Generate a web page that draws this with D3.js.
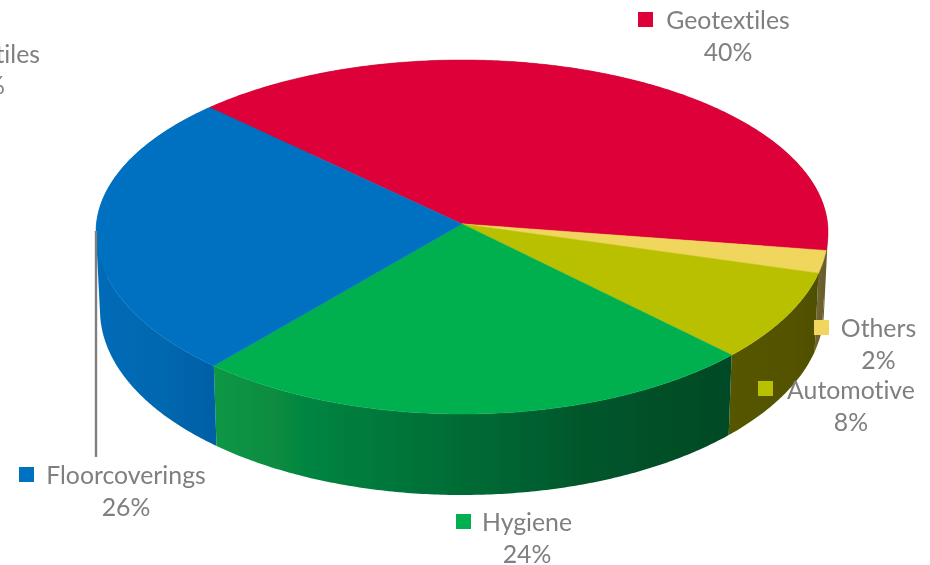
<!DOCTYPE html>
<html><head><meta charset="utf-8">
<script src="https://cdn.jsdelivr.net/npm/d3@7/dist/d3.min.js"></script>
<style>html,body{margin:0;padding:0;background:#fff;overflow:hidden}svg{display:block}
text{font-family:Lato,"Open Sans",sans-serif;fill:#7f7f7f;font-size:24.8px;font-variant-ligatures:none}</style>
</head><body>
<svg id="c" width="930" height="565"></svg>
<script>
// ---- data ----
const categories = ["Geotextiles","Others","Automotive","Hygiene","Floorcoverings","Textiles"];
const values = [40,2,8,24,26,0];

// ---- styling / layout (separate from data) ----
const topColors = ["#de0037","#f0d65c","#b8c000","#00b050","#0070c0","#7f7f7f"];
const sideStops = [
  ["#6a5f2a","#6a5f2a"],
  ["#6f6430","#665a28"],
  ["#565600","#505000"],
  ["#0a9845","#047e3e","#006a35","#00542a","#004a25"],
  ["#006cb8","#0068b0","#0060a6"],
  ["#777","#777"]
];
const labelPos = [
  {cx:728,y:29,key:638,ky:12},
  {cx:878.5,y:337,key:814,ky:320},
  {cx:851,y:399,key:758,ky:381},
  {cx:527,y:531,key:456,ky:514},
  {cx:126,y:484,key:19,ky:467}
];
const topE={cx:462,cy:232,rx:366,ryU:172,ryL:182}, botE={cx:462,cy:310,rx:362,ryU:172,ryL:185};
const k=-0.047, s=Math.sqrt(1-k*k);           // perspective shift of the pie centre
const start=-45.5*Math.PI/180;

const svg=d3.select("#c");
const defs=svg.append("defs");
defs.append("filter").attr("id","soft").append("feGaussianBlur").attr("stdDeviation",0.45);
const root=svg.append("g").attr("filter","url(#soft)");

// project a pie angle (0 = up, clockwise) + radius fraction onto an ellipse
function proj(E,a,r=1){
  const u=r*Math.sin(a), v=-r*Math.cos(a), d=1+k*v, vp=(v+k)/d;
  return [E.cx+E.rx*u*s/d, E.cy+(vp<0?E.ryU:E.ryL)*vp];
}
const pie=d3.pie().sort(null).value(d=>d.v).startAngle(start).endAngle(start+2*Math.PI);
const arcs=pie(values.map((v,i)=>({v,i})));
const line=d3.line();
function angles(a0,a1){const n=Math.max(2,Math.ceil((a1-a0)/0.01));return d3.range(n+1).map(j=>a0+(a1-a0)*j/n);}

// walls: one path of same-orientation quads per slice, so the silhouette stays filled
const sides=root.append("g");
arcs.filter(a=>a.data.v>0).forEach(a=>{
  const as=angles(a.startAngle,a.endAngle);
  const t=as.map(x=>proj(topE,x)), b=as.map(x=>proj(botE,x));
  const x0=d3.min(t,p=>p[0]),x1=d3.max(t,p=>p[0]);
  const id="g"+a.data.i;
  const g=defs.append("linearGradient").attr("id",id).attr("gradientUnits","userSpaceOnUse")
    .attr("x1",x0).attr("x2",x1).attr("y1",0).attr("y2",0);
  sideStops[a.data.i].forEach((c,j,l)=>g.append("stop").attr("offset",j/(l.length-1)).attr("stop-color",c));
  let dstr="";
  for(let j=0;j<as.length-1;j++){
    let q=[t[j],t[j+1],b[j+1],b[j]];
    if(d3.polygonArea(q)<0) q=q.reverse();
    dstr+=line(q)+"Z";
  }
  sides.append("path").attr("d",dstr).attr("fill",`url(#${id})`).attr("fill-rule","nonzero");
});
// top face
const tops=root.append("g");
arcs.filter(a=>a.data.v>0).forEach(a=>{
  const pts=[proj(topE,0,0)].concat(angles(a.startAngle,a.endAngle).map(x=>proj(topE,x)));
  tops.append("path").attr("d",line(pts)+"Z").attr("fill",topColors[a.data.i])
    .attr("stroke",topColors[a.data.i]).attr("stroke-width",0.5);
});
// leader line
root.append("line").attr("x1",96).attr("x2",96).attr("y1",231).attr("y2",457)
  .attr("stroke","#7f7f7f").attr("stroke-width",2.4);

// labels
const labels=root.append("g");
labelPos.forEach((p,i)=>{
  labels.append("rect").attr("x",p.key).attr("y",p.ky).attr("width",15).attr("height",15).attr("fill",topColors[i]);
  labels.append("text").attr("x",p.cx).attr("y",p.y).attr("text-anchor","middle").text(categories[i]);
  labels.append("text").attr("x",p.cx).attr("y",p.y+32).attr("text-anchor","middle").text(values[i]+"%");
});
// label of the zero slice runs off the left edge of the picture
labels.append("text").attr("x",40).attr("y",63).attr("text-anchor","end").text(categories[5]);
labels.append("text").attr("x",5).attr("y",94).attr("text-anchor","end").text(values[5]+"%");
</script>
</body></html>
